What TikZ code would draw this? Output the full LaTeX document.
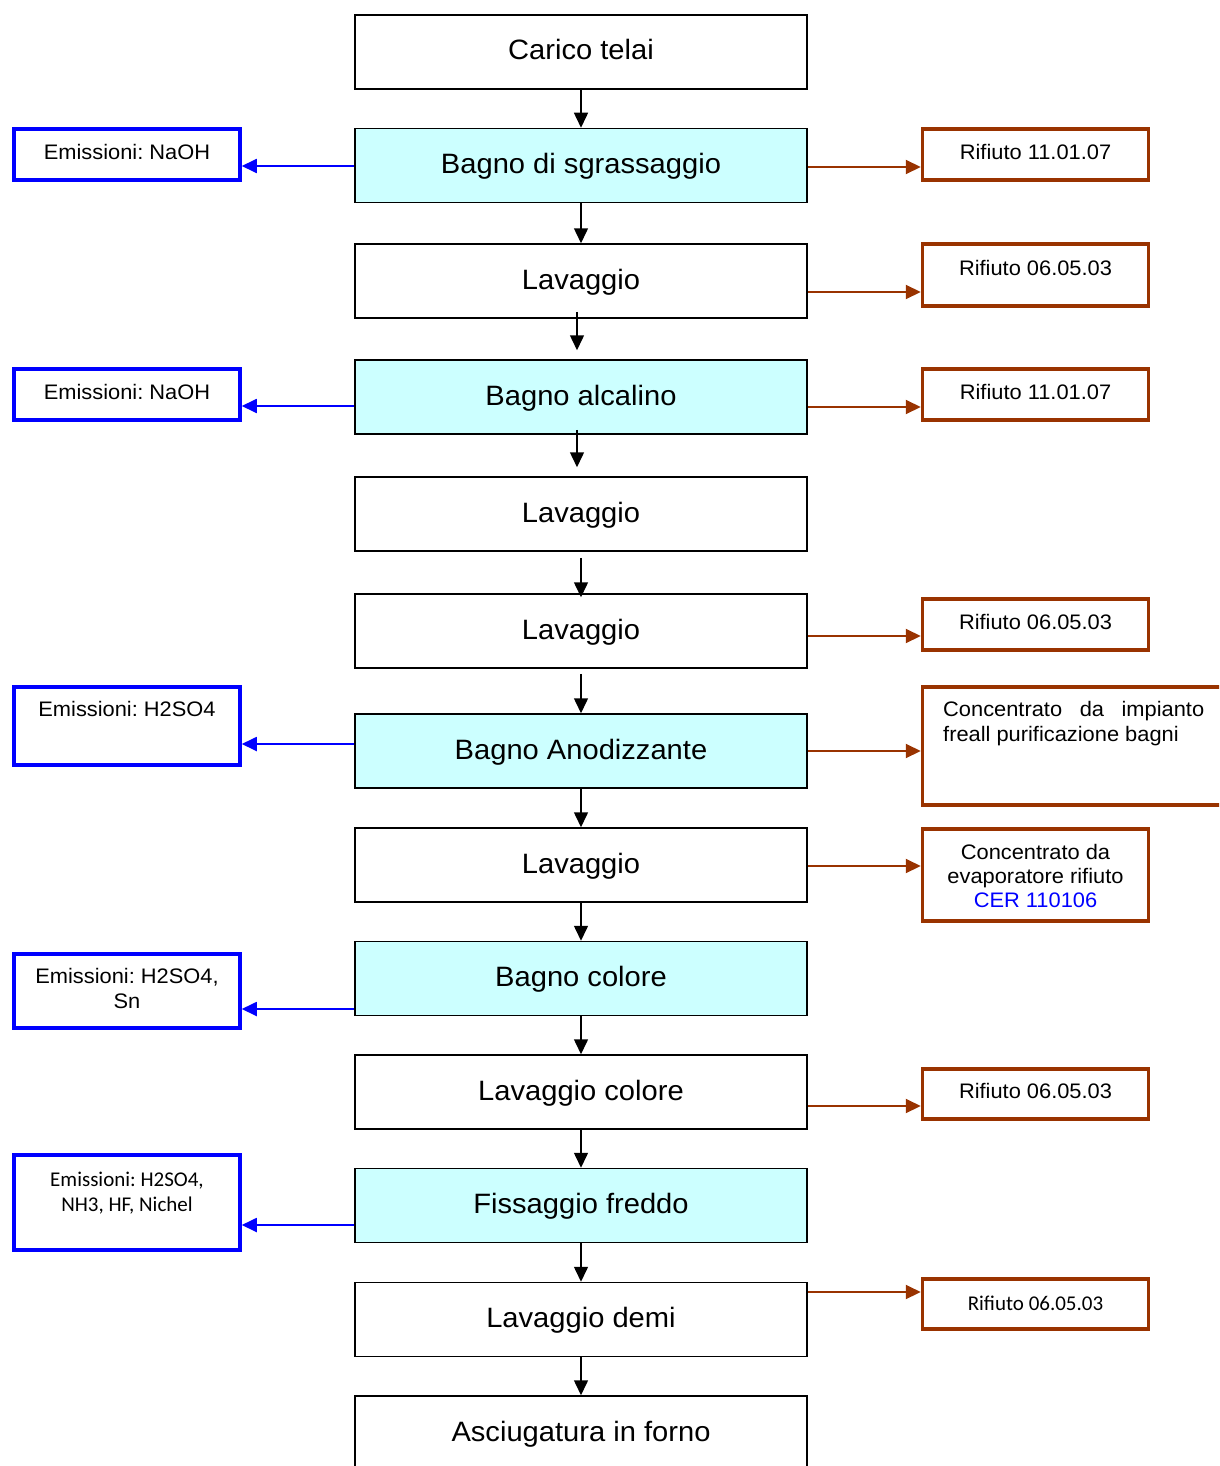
\documentclass[tikz,border=0pt]{standalone}
\usepackage{fontspec}
\setmainfont{Liberation Sans}[FakeStretch=1.04]
\newfontfamily\calibrifont{Carlito}
\usetikzlibrary{arrows.meta}
\definecolor{emisblue}{RGB}{0,0,255}
\definecolor{wastebrown}{RGB}{153,51,0}
\definecolor{bathcyan}{RGB}{204,255,255}
\frenchspacing
\begin{document}
\begin{tikzpicture}[x=1pt,y=-1pt,
  stage/.style={draw=black, line width=1.5pt, fill=white, minimum width=452pt,
    minimum height=74pt, inner sep=0pt, font=\fontsize{28}{32}\selectfont,
    text height=21pt, text depth=5pt},
  bath/.style={stage, fill=bathcyan},
  emisbox/.style={draw=emisblue, line width=3.5pt, minimum width=226pt, inner sep=0pt},
  wastebox/.style={draw=wastebrown, line width=3.5pt, minimum width=226pt, inner sep=0pt},
  small/.style={font=\fontsize{21}{25}\selectfont, inner sep=0pt, anchor=north, align=center},
  smallcal/.style={small, font=\calibrifont\fontsize{21}{25}\selectfont},
  flow/.style={line width=1.5pt, -{Triangle[length=15pt,width=14pt]}},
  emis/.style={draw=emisblue, line width=1.8pt, -{Triangle[length=15pt,width=14pt]}},
  waste/.style={draw=wastebrown, line width=2pt, -{Triangle[length=15pt,width=14pt]}},
]
\clip (0,0) rectangle (1219,1466);

% process stages
\node[stage] (c0)  at (581,52)     {Carico telai};
\node[bath]  (c1)  at (581,165.5)  {Bagno di sgrassaggio};
\node[stage] (c2)  at (581,281)    {Lavaggio};
\node[bath]  (c3)  at (581,397)    {Bagno alcalino};
\node[stage] (c4)  at (581,514)    {Lavaggio};
\node[stage] (c5)  at (581,631)    {Lavaggio};
\node[bath]  (c6)  at (581,751)    {Bagno Anodizzante};
\node[stage] (c7)  at (581,865)    {Lavaggio};
\node[bath]  (c8)  at (581,978.5)  {Bagno colore};
\node[stage] (c9)  at (581,1092)   {Lavaggio colore};
\node[bath]  (c10) at (581,1205.5) {Fissaggio freddo};
\node[stage] (c11) at (581,1319.5) {Lavaggio demi};
\node[stage] (c12) at (581,1433)   {Asciugatura in forno};

% emission boxes
\node[emisbox, minimum height=51pt] (e1) at (127,154.5) {};
\node[emisbox, minimum height=51pt] (e2) at (127,394.5) {};
\node[emisbox, minimum height=78pt] (e3) at (127,726)   {};
\node[emisbox, minimum height=74pt] (e4) at (127,991)   {};
\node[emisbox, minimum height=95pt] (e5) at (127,1202.5){};
\node[small]    (e1t) at (127,144.5) {Emissioni: NaOH};
\node[small]    (e2t) at (127,384.5) {Emissioni: NaOH};
\node[small]    (e3t) at (127,701.5) {Emissioni: H2SO4};
\node[small]    (e4t) at (127,968.5) {Emissioni: H2SO4,\\Sn};
\node[smallcal] (e5t) at (127,1172)  {Emissioni: H2SO4,\\NH3, HF, Nichel};

% waste boxes
\node[wastebox, minimum height=51pt] (r1) at (1035.5,154.5) {};
\node[wastebox, minimum height=62pt] (r2) at (1035.5,275)   {};
\node[wastebox, minimum height=51pt] (r3) at (1035.5,394.5) {};
\node[wastebox, minimum height=51pt] (r4) at (1035.5,624.5) {};
\node[wastebox, minimum height=118pt, minimum width=340pt] (r5) at (1092.5,746) {};
\node[wastebox, minimum height=92pt] (r6) at (1035.5,875)   {};
\node[wastebox, minimum height=50pt] (r7) at (1035.5,1094)  {};
\node[wastebox, minimum height=50pt] (r8) at (1035.5,1304)  {};
\node[small] (r1t) at (1035.5,144.5) {Rifiuto 11.01.07};
\node[small] (r2t) at (1035.5,260.5) {Rifiuto 06.05.03};
\node[small] (r3t) at (1035.5,384.5) {Rifiuto 11.01.07};
\node[small] (r4t) at (1035.5,614.5) {Rifiuto 06.05.03};
\node[small, anchor=north west, align=left] (r5t) at (943,701.5)
  {\makebox[261pt][l]{Concentrato\hfill da\hfill impianto}\\freall purificazione bagni};
\node[small, font=\fontsize{21}{24}\selectfont] (r6t) at (1035.5,844.5)
  {Concentrato da\\evaporatore rifiuto\\\textcolor{emisblue}{CER 110106}};
\node[small] (r7t) at (1035.5,1083.5) {Rifiuto 06.05.03};
\node[smallcal] (r8t) at (1035.5,1296) {Rifiuto 06.05.03};

% main flow
\draw[flow] (c0.south) -- (c1.north);
\draw[flow] (c1.south) -- (c2.north);
\draw[flow, shorten <=-7pt, shorten >=9pt] ([xshift=-4pt]c2.south) -- ([xshift=-4pt]c3.north);
\draw[flow, shorten <=-5pt, shorten >=9pt] ([xshift=-4pt]c3.south) -- ([xshift=-4pt]c4.north);
\draw[flow, shorten <=6pt, shorten >=-4pt] (c4.south) -- (c5.north);
\draw[flow, shorten <=5pt] (c5.south) -- (c6.north);
\foreach \a/\b in {c6/c7, c7/c8, c8/c9, c9/c10, c10/c11, c11/c12}
  \draw[flow] (\a.south) -- (\b.north);

% heights of the side connectors
\coordinate (h1) at (0,166);
\coordinate (h2) at (0,406);
\coordinate (h3) at (0,744);
\coordinate (h4) at (0,1009);
\coordinate (h5) at (0,1225);
\coordinate (w1) at (0,167);
\coordinate (w2) at (0,292);
\coordinate (w3) at (0,407);
\coordinate (w4) at (0,636);
\coordinate (w5) at (0,751);
\coordinate (w6) at (0,866);
\coordinate (w7) at (0,1106);
\coordinate (w8) at (0,1292);

% emissions
\draw[emis] (c1.west |- h1) -- (e1.east |- h1);
\draw[emis] (c3.west |- h2) -- (e2.east |- h2);
\draw[emis] (c6.west |- h3) -- (e3.east |- h3);
\draw[emis] (c8.west |- h4) -- (e4.east |- h4);
\draw[emis] (c10.west |- h5) -- (e5.east |- h5);

% waste streams
\draw[waste] (c1.east |- w1) -- (r1.west |- w1);
\draw[waste] (c2.east |- w2) -- (r2.west |- w2);
\draw[waste] (c3.east |- w3) -- (r3.west |- w3);
\draw[waste] (c5.east |- w4) -- (r4.west |- w4);
\draw[waste] (c6.east |- w5) -- (r5.west |- w5);
\draw[waste] (c7.east |- w6) -- (r6.west |- w6);
\draw[waste] (c9.east |- w7) -- (r7.west |- w7);
\draw[waste] (c11.east |- w8) -- (r8.west |- w8);
\end{tikzpicture}
\end{document}
